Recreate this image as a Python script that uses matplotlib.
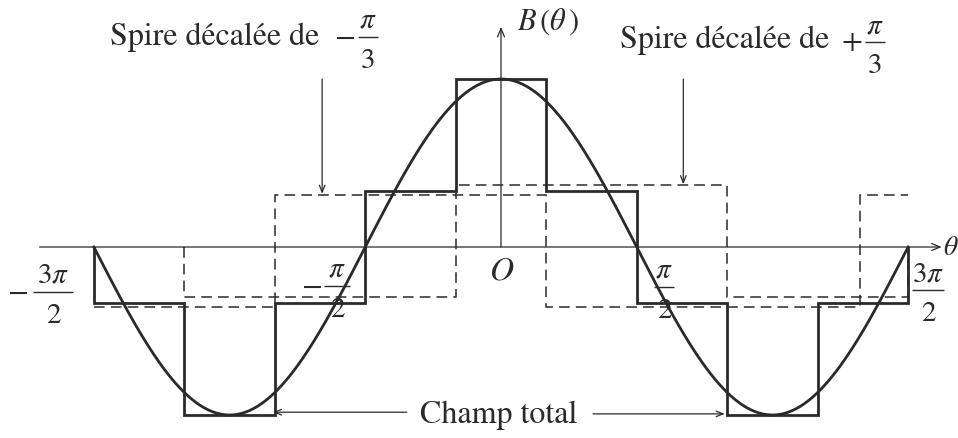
import numpy as np
import matplotlib.pyplot as plt

plt.rcParams['font.family'] = ['STIXGeneral', 'DejaVu Serif']
plt.rcParams['mathtext.fontset'] = 'stix'

pi = np.pi

# total field of the three coils (staircase) and its fundamental
total_edges = [-3*pi/2, -7*pi/6, -5*pi/6, -pi/2, -pi/6, pi/6, pi/2, 5*pi/6, 7*pi/6, 3*pi/2]
total_levels = [-1, -3, -1, 1, 3, 1, -1, -3, -1]
curve_amp = 3

# coil shifted by -pi/3
coil_minus_edges = [-3*pi/2, -5*pi/6, pi/6, 4.15, 3*pi/2]
coil_minus_levels = [-1, 1, -1, 1]
# coil shifted by +pi/3
coil_plus_edges = [-7*pi/6, -pi/6, 5*pi/6, 3*pi/2]
coil_plus_levels = [-1, 1, -1]

ink = '#2a2a2a'
PX_X = 86.4   # pixels per radian
PX_Y = 56.0   # pixels per field unit

fig = plt.figure(figsize=(9.58, 4.39), dpi=100)
ax = fig.add_axes([0, 0, 1, 1])
ax.set_axis_off()


def frac(x, y, num, den, sign=None, fs=21, half=10, sign_gap=7):
    """stacked fraction, bar centred on (x, y); sizes in pixels"""
    hw = half / PX_X
    ax.plot([x - hw, x + hw], [y, y], color=ink, lw=1.0, solid_capstyle='butt')
    ax.text(x, y + 10 / PX_Y, num, fontsize=fs, ha='center', va='baseline', color=ink)
    ax.text(x, y - 30 / PX_Y, den, fontsize=fs, ha='center', va='baseline', color=ink)
    if sign:
        ax.text(x - hw - sign_gap / PX_X, y, '$' + sign + '$', fontsize=fs + 1,
                ha='right', va='center', color=ink)


# axes with open arrow heads
arr = dict(arrowstyle='->,head_length=0.6,head_width=0.25', color=ink, lw=0.9,
           shrinkA=0, shrinkB=0)
ax.annotate('', xy=(5.10, 0), xytext=(-5.34, 0), arrowprops=arr)
ax.annotate('', xy=(0, 3.93), xytext=(0, 0), arrowprops=arr)

# individual coils, nudged slightly so the dashes stay visible
ax.stairs(np.array(coil_minus_levels) - 0.07, coil_minus_edges, baseline=None,
          color=ink, lw=1.1, linestyle=(0, (7, 4)))
ax.stairs(np.array(coil_plus_levels) + 0.1, coil_plus_edges, baseline=0,
          color=ink, lw=1.1, linestyle=(0, (7, 4)))

ax.stairs(total_levels, total_edges, baseline=0, color=ink, lw=2.0)

th = np.linspace(-3*pi/2, 3*pi/2, 400)
ax.plot(th, curve_amp*np.cos(th), color=ink, lw=2.0)

# pointers
ptr = dict(arrowstyle='->,head_length=0.5,head_width=0.2', color=ink, lw=0.9,
           shrinkA=0, shrinkB=0)
ax.annotate('', xy=(-2.07, 0.95), xytext=(-2.07, 3.0), arrowprops=ptr)
ax.annotate('', xy=(2.11, 1.12), xytext=(2.11, 3.0), arrowprops=ptr)
ax.annotate('', xy=(-2.64, -2.95), xytext=(-1.09, -2.95), arrowprops=ptr)
ax.annotate('', xy=(2.59, -2.98), xytext=(1.065, -2.98), arrowprops=ptr)

fs = 23
ax.text(-4.53, 3.625, 'Spire décalée de', fontsize=fs, ha='left', va='baseline', color=ink)
frac(-1.539, 3.75, r'$\pi$', '3', sign='-', sign_gap=3)
ax.text(1.38, 3.571, 'Spire décalée de', fontsize=fs, ha='left', va='baseline', color=ink)
frac(4.329, 3.66, r'$\pi$', '3', sign='+', sign_gap=3)

ax.text(-0.023, -3.125, 'Champ total', fontsize=23, ha='center', va='baseline', color=ink)
ax.text(0.19, 3.90, r'$B\,(\theta\,)$', fontsize=22, ha='left', va='baseline', color=ink)
ax.text(5.11, -0.125, r'$\theta$', fontsize=20, ha='left', va='baseline', color=ink)
ax.text(0.012, -0.571, r'$O$', fontsize=24, ha='center', va='baseline', color=ink)

frac(-5.185, -0.80, r'$3\pi$', '2', sign='-', half=20, sign_gap=5)
frac(-1.898, -0.696, r'$\pi$', '2', sign='-', half=13, sign_gap=2)
frac(1.887, -0.714, r'$\pi$', '2', half=10)
frac(4.942, -0.77, r'$3\pi$', '2', half=16)

ax.set_xlim(-501/PX_X, (958-501)/PX_X)
ax.set_ylim(-(439-248)/PX_Y, 248/PX_Y)

fig.savefig('out.png', dpi=100, facecolor='white')
